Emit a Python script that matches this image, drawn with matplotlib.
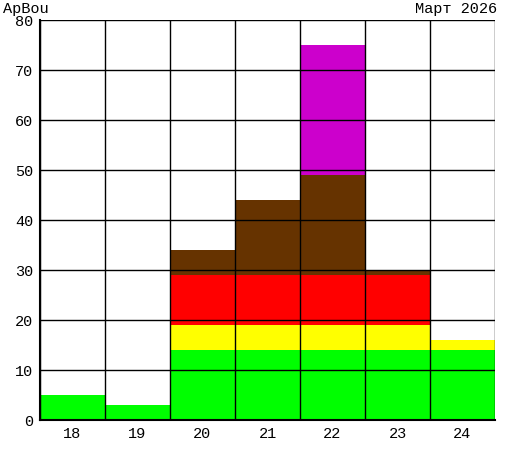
import numpy as np
import matplotlib.pyplot as plt

days = ['18', '19', '20', '21', '22', '23', '24']
green = [5, 3, 14, 14, 14, 14, 14]
yellow = [0, 0, 5, 5, 5, 5, 2]
red = [0, 0, 10, 10, 10, 10, 0]
brown = [0, 0, 5, 15, 20, 1, 0]
magenta = [0, 0, 0, 0, 26, 0, 0]

series = [green, yellow, red, brown, magenta]
colors = ['#00ff00', '#ffff00', '#ff0000', '#663300', '#cc00cc']

plt.rcParams['font.family'] = ['Liberation Mono', 'DejaVu Sans Mono']
plt.rcParams['font.size'] = 11

fig = plt.figure(figsize=(5.15, 4.6), dpi=100)
ax = fig.add_axes([40/515, 39.5/460, 455/515, 400/460])

x = np.arange(len(days)) + 0.5
bottom = np.zeros(len(days))
for vals, c in zip(series, colors):
	ax.bar(x, vals, width=1.0, bottom=bottom, color=c, linewidth=0, zorder=1)
	bottom += np.array(vals)

ax.set_xlim(0, len(days))
ax.set_ylim(0, 80)
ax.set_xticks(x)
ax.set_xticklabels(days)
ax.set_xticks(np.arange(len(days) + 1), minor=True)
ax.set_yticks(np.arange(0, 81, 10))
ax.tick_params(which='both', length=0)
ax.tick_params(axis='y', pad=5)
ax.tick_params(axis='x', pad=5)

ax.grid(True, which='minor', axis='x', color='black', linewidth=1.0, zorder=3)
ax.grid(True, which='major', axis='y', color='black', linewidth=1.0, zorder=3)
ax.set_axisbelow(False)
for s in ['top', 'right']:
	ax.spines[s].set_visible(False)
for s in ['left', 'bottom']:
	ax.spines[s].set_linewidth(1.5)

fig.text(3/515, 1 - 9/460, 'ApBou', ha='left', va='center')
fig.text(497/515, 1 - 9/460, 'Март 2026', ha='right', va='center')

fig.savefig('out.png', dpi=100)
